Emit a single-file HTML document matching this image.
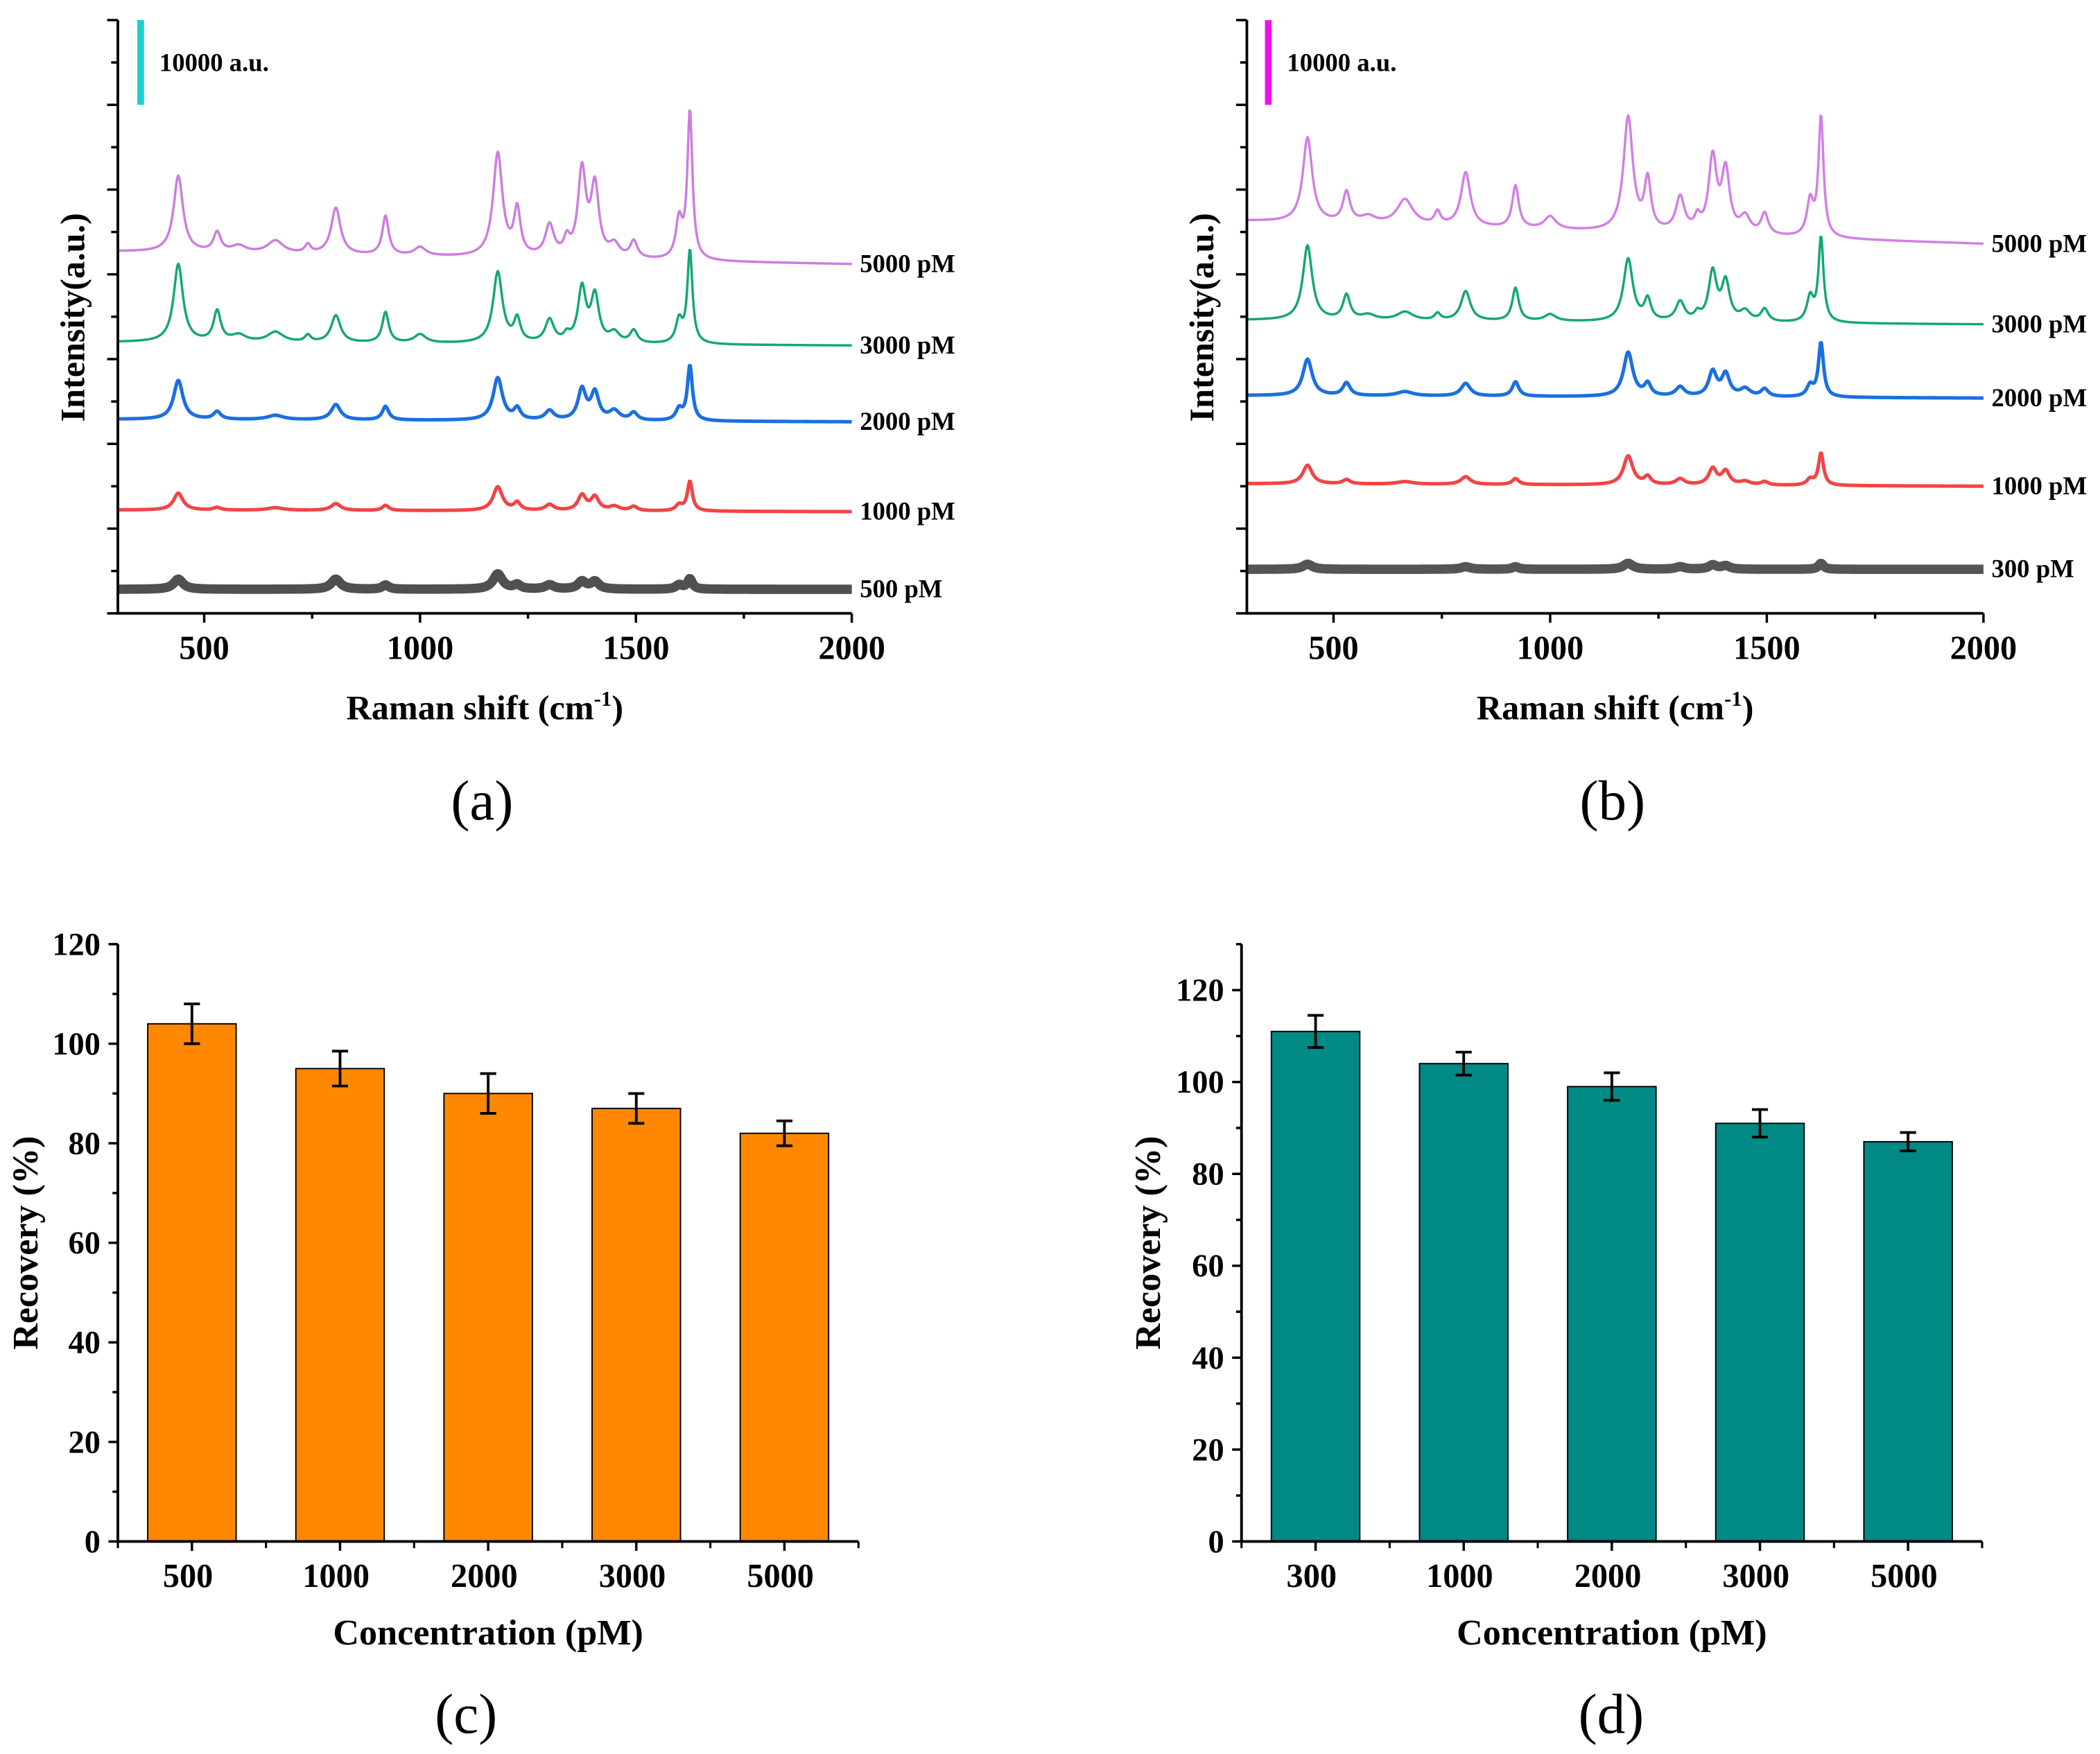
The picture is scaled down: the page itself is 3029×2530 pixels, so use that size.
<!DOCTYPE html>
<html><head><meta charset="utf-8"><style>
html,body{margin:0;padding:0;background:#fff;}
svg{display:block;}
text{font-family:"Liberation Serif",serif;}
</style></head><body>
<svg id="fig" width="3029" height="2530" viewBox="0 0 1568 1309.7" xmlns="http://www.w3.org/2000/svg">
<g id="pa"></g>
<g id="pb"></g>
<g id="pc"></g>
<g id="pd"></g>
</svg>
<script>
// ---- spectra data ----
const peakPos   = [440, 530, 580, 665, 740, 805, 920, 1000, 1180, 1225, 1300, 1340, 1375, 1405, 1450, 1495, 1600, 1625];
const peakWidth = [13, 10, 20, 22, 8, 13, 9, 16, 13, 9, 12, 8, 11, 11, 14, 10, 9, 7];
const aLabels = ["500 pM","1000 pM","2000 pM","3000 pM","5000 pM"];
const aBaseL  = [2840, 12200, 22900, 32000, 42700];
const aBaseR  = [2840, 12000, 22600, 31600, 41200];
const aPeaks = [
  [1200, 0, 0, 0, 0, 1200, 500, 0, 1800, 500, 500, 0, 900, 900, 0, 0, 500, 1200],
  [2000, 300, 0, 300, 0, 800, 600, 0, 2800, 900, 700, 0, 1800, 1600, 500, 500, 700, 3500],
  [4600, 900, 0, 500, 0, 1800, 1600, 0, 5000, 1300, 1100, 0, 3600, 3200, 1100, 900, 1300, 6500],
  [9200, 3600, 800, 1200, 800, 3200, 3600, 1000, 8400, 2700, 2700, 800, 6400, 5500, 1200, 1500, 2700, 11000],
  [9000, 2300, 800, 1500, 1000, 5500, 4600, 1000, 12200, 5400, 3700, 1800, 10200, 8300, 1500, 2000, 4500, 17500]
];
const aColors = ["#505050","#f24444","#1b6fe0","#14a870","#cc7de0"];
const bLabels = ["300 pM","1000 pM","2000 pM","3000 pM","5000 pM"];
const bBaseL  = [5200, 15300, 25700, 34600, 46300];
const bBaseR  = [5200, 15000, 25400, 34100, 43600];
const bPeaks = [
  [600, 0, 0, 0, 0, 300, 300, 0, 700, 0, 300, 0, 500, 400, 0, 0, 0, 700],
  [2200, 500, 0, 300, 0, 900, 700, 0, 3400, 900, 700, 0, 1900, 1600, 400, 400, 700, 3800],
  [4300, 1500, 0, 500, 0, 1500, 1700, 0, 5200, 1400, 1100, 0, 2900, 2600, 900, 900, 1300, 6400],
  [8800, 2900, 600, 1000, 800, 3500, 3900, 800, 7400, 2500, 2300, 800, 5800, 4600, 1200, 1500, 2900, 10000],
  [10000, 3600, 800, 3000, 1500, 6400, 5000, 1500, 13500, 5900, 4100, 1500, 8800, 7300, 2000, 2500, 4100, 14200]
];
const bColors = ["#555555","#f24444","#1b6fe0","#14a870","#d27fe6"];
const xTicksSpec = [500, 1000, 1500, 2000];
// ---- bar data ----
const cCats = ["500","1000","2000","3000","5000"];
const cVals = [104, 95, 90, 87, 82];
const cErr  = [4, 3.5, 4, 3, 2.5];
const dCats = ["300","1000","2000","3000","5000"];
const dVals = [111, 104, 99, 91, 87];
const dErr  = [3.5, 2.5, 3, 3, 2];
const cTicks = [0,20,40,60,80,100,120];
const dTicks = [0,20,40,60,80,100,120];

const NS="http://www.w3.org/2000/svg";
function mk(parent, tag, attrs, txt){
  const e=document.createElementNS(NS,tag);
  for(const k in attrs) e.setAttribute(k, attrs[k]);
  if(txt!==undefined) e.textContent=txt;
  parent.appendChild(e); return e;
}

function spectrumPanel(g, o){
  const x = v => o.x0 + (v-300)/(2000-300)*(o.x1-o.x0);
  const y = v => o.yb - v/70000*(o.yb-o.yt);
  o.peaks.forEach((pk, si)=>{
    let pts=[];
    for(let w=300; w<=2000; w+=2){
      let v = o.baseL[si] + (o.baseR[si]-o.baseL[si])*(w-300)/1700;
      for(let i=0;i<peakPos.length;i++){
        const d=(w-peakPos[i])/peakWidth[i];
        v += pk[i]/(1+d*d);
      }
      pts.push(x(w).toFixed(2)+","+y(v).toFixed(2));
    }
    const pl=mk(g,"polyline",{points:pts.join(" "),fill:"none",stroke:o.colors[si],"stroke-width":si===0?7:(si<3?2.6:1.8),"stroke-linejoin":"round"});
    
    
    const t=mk(g,"text",{x:o.x1+6,y:y(o.baseR[si])+6,"font-size":19,"font-weight":"bold"},o.labels[si]);
    
    
  });
  const ax=mk(g,"path",{d:`M${o.x0},${o.yt} V${o.yb} H${o.x1}`,fill:"none",stroke:"#000","stroke-width":2});
  
  
  for(let v=0; v<=70000; v+=5000){
    const major = (v/5000)%2===0;
    mk(g,"line",{x1:o.x0-(major?8:5),x2:o.x0,y1:y(v),y2:y(v),stroke:"#000","stroke-width":1.8});
  }
  for(let w=500; w<=2000; w+=250){
    const major = w%500===0;
    mk(g,"line",{x1:x(w),x2:x(w),y1:o.yb,y2:o.yb+(major?7:4),stroke:"#000","stroke-width":1.8});
  }
  xTicksSpec.forEach(w=>{
    const t=mk(g,"text",{x:x(w),y:o.yb+34,"font-size":25,"font-weight":"bold","text-anchor":"middle"},String(w));
    
    
  });
  const yt=mk(g,"text",{x:0,y:0,"font-size":26,"font-weight":"bold","text-anchor":"middle",transform:`translate(${o.x0-25},237) rotate(-90)`},"Intensity(a.u.)");
  
  
  const xt=mk(g,"text",{x:(o.x0+o.x1)/2,y:537,"font-size":26,"font-weight":"bold","text-anchor":"middle"});
  
  
  xt.textContent="Raman shift (cm";
  mk(xt,"tspan",{"font-size":16,dy:-10},"-1");
  mk(xt,"tspan",{dy:10},")");
  const sb=mk(g,"rect",{x:o.sbx-2.5,y:o.yt,width:5,height:y(0)-y(10000),fill:o.sbColor});
  
  
  const st=mk(g,"text",{x:o.sbx+14,y:o.yt+38,"font-size":19,"font-weight":"bold"},"10000 a.u.");
  
  
  const pl=mk(g,"text",{x:(o.x0+o.x1)/2-2,y:612,"font-size":42,"text-anchor":"middle"},o.tag);
  
  
}

function barPanel(g, o){
  const n=o.cats.length;
  const band=(o.x1-o.x0)/n;
  const x = i => o.x0 + band*(i+0.5);
  const y = v => o.yb - v/o.ymax*(o.yb-o.yt);
  o.vals.forEach((v,i)=>{
    const r=mk(g,"rect",{x:x(i)-33,y:y(v),width:66,height:o.yb-y(v),fill:o.color,stroke:"#000","stroke-width":1});
    
    
    const e=o.err[i];
    const eb=mk(g,"path",{d:`M${x(i)},${y(v+e)} V${y(v-e)} M${x(i)-6},${y(v+e)} H${x(i)+6} M${x(i)-6},${y(v-e)} H${x(i)+6}`,stroke:"#000","stroke-width":2,fill:"none"});
    
    
    const t=mk(g,"text",{x:x(i)-3,y:o.yb+34,"font-size":25,"font-weight":"bold","text-anchor":"middle"},o.cats[i]);
    
    
    mk(g,"line",{x1:x(i),x2:x(i),y1:o.yb,y2:o.yb+7,stroke:"#000","stroke-width":1.8});
  });
  for(let i=0;i<=n;i++) mk(g,"line",{x1:o.x0+band*i,x2:o.x0+band*i,y1:o.yb,y2:o.yb+5,stroke:"#000","stroke-width":1.6});
  const ax=mk(g,"path",{d:`M${o.x0},${y(o.ymax)} V${o.yb} H${o.x1}`,fill:"none",stroke:"#000","stroke-width":2});
  
  
  for(let v=0; v<=o.ymax; v+=10){
    const major=v%20===0;
    mk(g,"line",{x1:o.x0-(major?7:4),x2:o.x0,y1:y(v),y2:y(v),stroke:"#000","stroke-width":1.8});
  }
  o.ticks.forEach(v=>{
    const t=mk(g,"text",{x:o.x0-13,y:y(v)+8,"font-size":24,"font-weight":"bold","text-anchor":"end"},String(v));
    
    
  });
  const yt=mk(g,"text",{x:0,y:0,"font-size":27,"font-weight":"bold","text-anchor":"middle",transform:`translate(${o.ytx},928) rotate(-90)`},"Recovery (%)");
  
  
  const xt=mk(g,"text",{x:(o.x0+o.x1)/2,y:1228,"font-size":27,"font-weight":"bold","text-anchor":"middle"},"Concentration (pM)");
  
  
  const pl=mk(g,"text",{x:o.tagx,y:1294,"font-size":42,"text-anchor":"middle"},o.tag);
  
  
}

spectrumPanel(document.getElementById("pa"),{x0:88,x1:636,yt:15,yb:458,peaks:aPeaks,baseL:aBaseL,baseR:aBaseR,colors:aColors,labels:aLabels,sbx:105,sbColor:"#1ccfcf",tag:"(a)"});
spectrumPanel(document.getElementById("pb"),{x0:931,x1:1481,yt:15,yb:458,peaks:bPeaks,baseL:bBaseL,baseR:bBaseR,colors:bColors,labels:bLabels,sbx:947,sbColor:"#ee11ee",tag:"(b)"});
barPanel(document.getElementById("pc"),{x0:88,x1:641,yt:705,yb:1151,ymax:120,cats:cCats,vals:cVals,err:cErr,ticks:cTicks,color:"#ff8800",ytx:28,tag:"(c)",tagx:348});
barPanel(document.getElementById("pd"),{x0:927,x1:1480,yt:705,yb:1151,ymax:130,cats:dCats,vals:dVals,err:dErr,ticks:dTicks,color:"#008985",ytx:866,tag:"(d)",tagx:1203});
</script>
</body></html>
